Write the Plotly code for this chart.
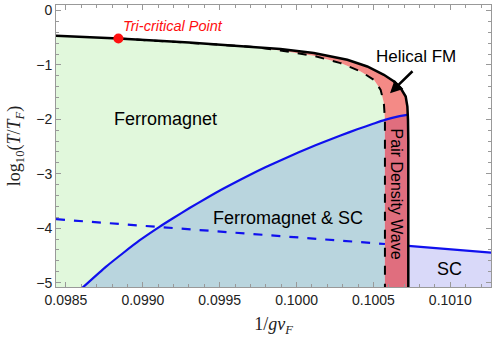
import plotly.graph_objects as go

# phase boundaries (x = 1/gv_F, y = log10(T/T_F))
fm_x = [0.098435, 0.098841, 0.0993, 0.0997, 0.099895, 0.100112, 0.100330, 0.100460,
        0.100568, 0.100634, 0.100677, 0.100710, 0.100721, 0.100725, 0.100727, 0.100727]
fm_y = [-0.465, -0.515, -0.59, -0.662, -0.709, -0.783, -0.906, -1.029,
        -1.182, -1.305, -1.426, -1.581, -1.765, -2.01, -2.4, -5.2]

hx_x = [0.098841, 0.0993, 0.0997, 0.099895, 0.100112, 0.100286, 0.100417, 0.100503,
        0.100547, 0.100568, 0.100575, 0.100575]
hx_y = [-0.515, -0.59, -0.665, -0.735, -0.833, -0.967, -1.121, -1.274,
        -1.458, -1.702, -2.01, -5.2]

sc_x = [0.098585, 0.098761, 0.098870, 0.098978, 0.099108, 0.099196, 0.099304, 0.099413,
        0.099522, 0.099634, 0.099743, 0.099851, 0.099960, 0.100069, 0.100177, 0.100286,
        0.100395, 0.100503, 0.100575, 0.100656, 0.100710, 0.100727]
sc_y = [-5.15, -4.706, -4.46, -4.225, -3.975, -3.818, -3.63, -3.449,
        -3.275, -3.11, -2.955, -2.81, -2.672, -2.54, -2.415, -2.296,
        -2.183, -2.078, -2.01, -1.95, -1.922, -1.915]

pt_x = [0.098435, 0.099119, 0.0997, 0.100575]
pt_y = [-3.835, -3.982, -4.105, -4.29]
pt2_x = [0.100727, 0.101265]
pt2_y = [-4.325, -4.449]

tcp_x, tcp_y = 0.098841, -0.515
xmin, xmax = 0.098435, 0.101265
ybot = -5.2
i_pdw = 18  # index where the blue curve meets the dashed boundary

fig = go.Figure()

# Ferromagnet (green): under the top curve, left of the dashed boundary
gx = fm_x[:2] + hx_x[1:] + [xmin]
gy = fm_y[:2] + hx_y[1:] + [ybot]
fig.add_trace(go.Scatter(x=gx, y=gy, fill="toself", fillcolor="#e1f8dc", mode="none"))

# Ferromagnet & SC (blue-grey): below blue curve, left of dashed boundary
bx = sc_x[:i_pdw + 1] + [hx_x[-1], sc_x[0]]
by = sc_y[:i_pdw + 1] + [ybot, ybot]
fig.add_trace(go.Scatter(x=bx, y=by, fill="toself", fillcolor="#b9d5de", mode="none"))

# Helical FM (red): between dashed and solid black curves
rx = fm_x[1:] + hx_x[::-1]
ry = fm_y[1:] + hx_y[::-1]
fig.add_trace(go.Scatter(x=rx, y=ry, fill="toself", fillcolor="#f48a86", mode="none"))

# Pair density wave: the red strip below the blue curve
px_ = sc_x[i_pdw:] + [fm_x[-1], hx_x[-1]]
py_ = sc_y[i_pdw:] + [ybot, ybot]
fig.add_trace(go.Scatter(x=px_, y=py_, fill="toself", fillcolor="#e06e7e", mode="none"))

# SC (lavender): right of the solid boundary, below the blue line
sx = pt2_x + [xmax + 0.0001, pt2_x[0]]
sy = pt2_y + [ybot, ybot]
fig.add_trace(go.Scatter(x=sx, y=sy, fill="toself", fillcolor="#d9d9f9", mode="none"))

# lines
fig.add_trace(go.Scatter(x=sc_x, y=sc_y, mode="lines",
                         line=dict(color="#1010ee", width=2.2, shape="spline", smoothing=0.5)))
fig.add_trace(go.Scatter(x=pt_x, y=pt_y, mode="lines",
                         line=dict(color="#1010ee", width=2.2, dash="dash")))
fig.add_trace(go.Scatter(x=pt2_x, y=pt2_y, mode="lines", line=dict(color="#1010ee", width=2.2)))
fig.add_trace(go.Scatter(x=hx_x, y=hx_y, mode="lines",
                         line=dict(color="black", width=2, dash="dash")))
fig.add_trace(go.Scatter(x=fm_x, y=fm_y, mode="lines", line=dict(color="black", width=2.5)))
fig.add_trace(go.Scatter(x=[tcp_x], y=[tcp_y], mode="markers",
                         marker=dict(color="#ff1010", size=10)))

lab = dict(family="Liberation Sans", color="black", size=18)
fig.add_annotation(x=0.098860, y=-0.294, text="<i>Tri-critical Point</i>", showarrow=False,
                   xanchor="left", font=dict(family="Liberation Sans", color="#ff1010", size=14.5))
fig.add_annotation(x=0.100780, y=-0.84, text="Helical FM", showarrow=False,
                   font=dict(family="Liberation Sans", color="black", size=17))
fig.add_annotation(x=0.100608, y=-1.52, ax=0.100764, ay=-1.09, axref="x", ayref="y",
                   text="", showarrow=True, arrowhead=2, arrowsize=1, arrowwidth=2.5,
                   arrowcolor="black")
fig.add_annotation(x=0.099145, y=-1.99, text="Ferromagnet", showarrow=False, font=lab)
fig.add_annotation(x=0.099944, y=-3.816, text="Ferromagnet & SC", showarrow=False, font=lab)
fig.add_annotation(x=0.100649, y=-3.37, text="Pair Density Wave", showarrow=False,
                   textangle=90, font=dict(family="Liberation Sans", color="black", size=16))
fig.add_annotation(x=0.100995, y=-4.748, text="SC", showarrow=False, font=lab)

axis_common = dict(showgrid=False, zeroline=False, showline=True, linecolor="#999",
                   linewidth=1, mirror="allticks", ticks="inside", ticklen=5, automargin=False,
                   tickcolor="#999", tickfont=dict(family="Liberation Sans", size=14, color="#222"))
fig.update_xaxes(range=[xmin, xmax], tickmode="array",
                 tickvals=[0.0985, 0.0990, 0.0995, 0.1000, 0.1005, 0.1010],
                 ticktext=["0.0985", "0.0990", "0.0995", "0.1000", "0.1005", "0.1010"],
                 minor=dict(dtick=0.0001, tick0=0.0985, ticks="inside", ticklen=3, tickcolor="#999"),
                 title=dict(text="1/<i>gv<sub>F</sub></i>", standoff=10,
                            font=dict(family="Liberation Serif", size=18, color="#222")),
                 **axis_common)
fig.update_yaxes(range=[-5.08, 0.1], tickmode="array", tickvals=[0, -1, -2, -3, -4, -5],
                 minor=dict(dtick=0.2, tick0=0, ticks="inside", ticklen=3, tickcolor="#999"),
                 title=dict(text="log<sub>10</sub>(<i>T</i>/<i>T<sub>F</sub></i>)", standoff=10,
                            font=dict(family="Liberation Serif", size=18, color="#222")),
                 **axis_common)

fig.update_layout(width=499, height=339, margin=dict(l=56, r=8, t=5, b=52),
                  showlegend=False, plot_bgcolor="white", paper_bgcolor="white")

# drop the page's default body margin so the figure sits at the window corner
fig.write_html("out.html", config={"displayModeBar": False},
               post_script="document.body.style.margin='0';")
